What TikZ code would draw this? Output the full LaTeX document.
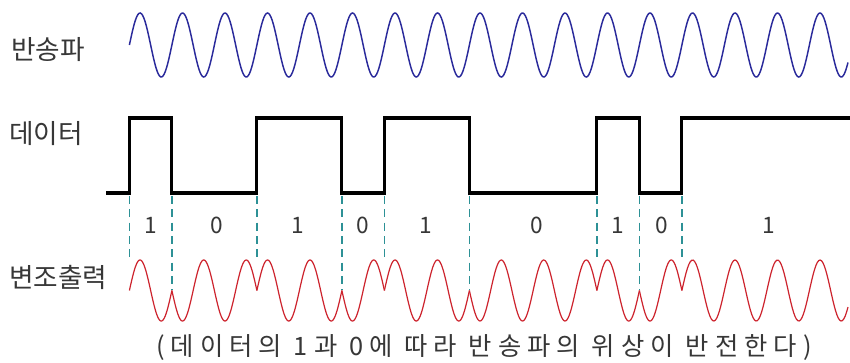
\documentclass[tikz,border=0pt]{standalone}
\usepackage{fontspec}
\newfontfamily\kr{Noto Sans CJK KR}
\newfontfamily\krsp[LetterSpace=24]{Noto Sans CJK KR}
\definecolor{carrierblue}{RGB}{42,42,155}
\definecolor{modred}{RGB}{205,35,45}
\definecolor{guideteal}{RGB}{45,145,150}
\definecolor{txtgray}{RGB}{55,55,55}
\begin{document}
\begin{tikzpicture}[x=0.75pt,y=-0.75pt,
  lbl/.style={inner sep=0pt, text=txtgray, font=\kr\fontsize{20}{22}\selectfont},
  bit/.style={inner sep=0pt, text=txtgray, font=\kr\fontsize{17}{18}\selectfont},
  captext/.style={inner sep=0pt, text=txtgray, font=\krsp\fontsize{19}{21}\selectfont},
  carrier/.style={draw=carrierblue, line width=1.1pt},
  modw/.style={draw=modred, line width=0.9pt},
  datal/.style={draw=black, line width=2.3pt, line join=miter},
  guide/.style={draw=guideteal, line width=0.9pt, dash pattern=on 6pt off 4pt}]
\useasboundingbox (0,0) rectangle (850,362);
\fill[white] (0,0) rectangle (850,362);

% labels
\node[lbl, anchor=west] (lcarrier) at (11,50) {반송파};
\node[lbl, anchor=west] (ldata) at (9,134) {데이터};
\node[lbl, anchor=west] (lmod) at (9,277) {변조출력};

% carrier
\draw[carrier] plot[domain=129.4:848, samples=600] (\x,{45-32*sin(((\x-129.4)/42.5)*360)});

% data signal
\draw[datal] (106,193) -- (129.4,193) -- (129.4,118) -- (171.9,118) -- (171.9,193)
  -- (256.9,193) -- (256.9,118) -- (341.9,118) -- (341.9,193) -- (384.4,193)
  -- (384.4,118) -- (469.4,118) -- (469.4,193) -- (596.9,193) -- (596.9,118)
  -- (639.4,118) -- (639.4,193) -- (681.9,193) -- (681.9,118) -- (850,118);

% guide lines
\foreach \bx/\by in {129.4/262, 171.9/290, 256.9/262, 341.9/290, 384.4/262,
                     469.4/290, 596.9/262, 639.4/290, 681.9/262}
  \draw[guide] (\bx,196) -- (\bx,\by);

% bit labels
\foreach \nx/\t [count=\i] in {151/1, 217/0, 298/1, 363/0, 426/1, 537/0, 618/1, 662/0, 769/1}
  \node[bit] (bit\i) at (\nx,225) {\t};

% modulated output
\foreach \a/\b/\s in {129.4/171.9/1, 171.9/256.9/-1, 256.9/341.9/1, 341.9/384.4/-1,
                      384.4/469.4/1, 469.4/596.9/-1, 596.9/639.4/1, 639.4/681.9/-1,
                      681.9/848/1}
  \draw[modw] plot[domain=\a:\b, samples=120] (\x,{290.5-30.5*(\s)*sin(((\x-129.4)/42.5)*360)});

% caption
\node[captext] (caption) at (484,347) {(데이터의 1과 0에 따라 반송파의 위상이 반전한다)};
\end{tikzpicture}
\end{document}
